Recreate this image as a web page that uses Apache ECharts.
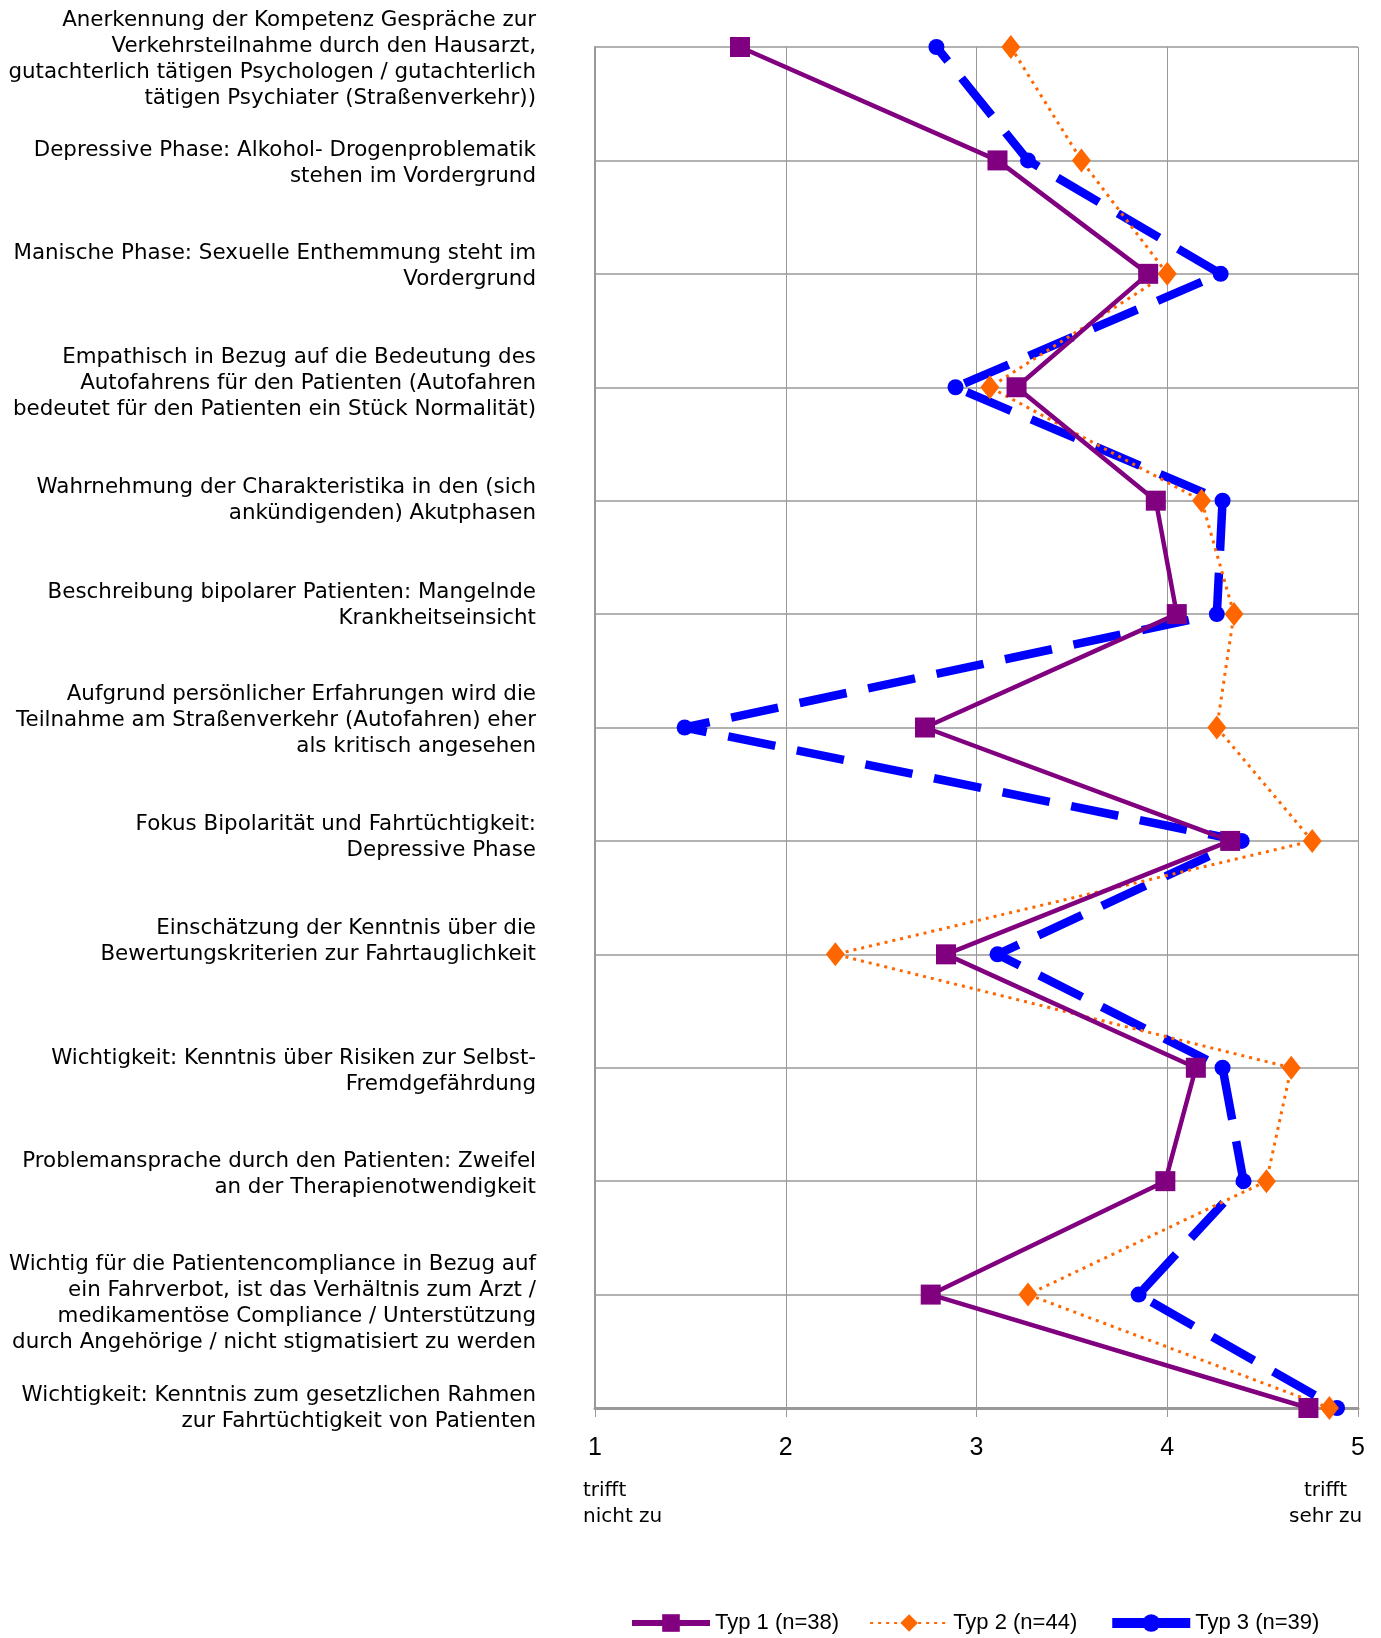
<!DOCTYPE html>
<html>
<head>
<meta charset="utf-8">
<script src="https://cdn.jsdelivr.net/npm/echarts@6/dist/echarts.min.js"></script>
<style>
  html, body { margin: 0; padding: 0; background: #fff; }
  #chart { width: 1381px; height: 1638px; }
</style>
</head>
<body>
<div id="chart"></div>
<script>
// Aussagen (von oben nach unten)
const categories = [
  'Anerkennung der Kompetenz Gespräche zur\nVerkehrsteilnahme durch den Hausarzt,\ngutachterlich tätigen Psychologen / gutachterlich\ntätigen Psychiater (Straßenverkehr))',
  'Depressive Phase: Alkohol- Drogenproblematik\nstehen im Vordergrund',
  'Manische Phase: Sexuelle Enthemmung steht im\nVordergrund',
  'Empathisch in Bezug auf die Bedeutung des\nAutofahrens für den Patienten (Autofahren\nbedeutet für den Patienten ein Stück Normalität)',
  'Wahrnehmung der Charakteristika in den (sich\nankündigenden) Akutphasen',
  'Beschreibung bipolarer Patienten: Mangelnde\nKrankheitseinsicht',
  'Aufgrund persönlicher Erfahrungen wird die\nTeilnahme am Straßenverkehr (Autofahren) eher\nals kritisch angesehen',
  'Fokus Bipolarität und Fahrtüchtigkeit:\nDepressive Phase',
  'Einschätzung der Kenntnis über die\nBewertungskriterien zur Fahrtauglichkeit',
  'Wichtigkeit: Kenntnis über Risiken zur Selbst-\nFremdgefährdung',
  'Problemansprache durch den Patienten: Zweifel\nan der Therapienotwendigkeit',
  'Wichtig für die Patientencompliance in Bezug auf\nein Fahrverbot, ist das Verhältnis zum Arzt /\nmedikamentöse Compliance / Unterstützung\ndurch Angehörige / nicht stigmatisiert zu werden',
  'Wichtigkeit: Kenntnis zum gesetzlichen Rahmen\nzur Fahrtüchtigkeit von Patienten'
]

const typ1 = [1.76, 3.11, 3.90, 3.21, 3.94, 4.05, 2.73, 4.33, 2.84, 4.15, 3.99, 2.76, 4.74]
const typ2 = [3.18, 3.55, 4.00, 3.07, 4.18, 4.35, 4.26, 4.76, 2.26, 4.65, 4.52, 3.27, 4.85]
const typ3 = [2.79, 3.27, 4.28, 2.89, 4.29, 4.26, 1.47, 4.39, 3.11, 4.29, 4.40, 3.85, 4.89]

const seriesNames = ['Typ 1 (n=38)', 'Typ 2 (n=44)', 'Typ 3 (n=39)']
const scaleMin = 1
const scaleMax = 5

// vertikaler Versatz der Beschriftungen wie im Original (px, + = nach unten)
const labelShift = [12, 3, -7, -4, 0, -9, -7, -3, -13, 4, -7, 9, 0]

const narrow = "'Liberation Sans Narrow', 'Arial Narrow', 'Liberation Sans', sans-serif"
const verdana = "Verdana, 'DejaVu Sans', sans-serif"
const gridColor = '#999'

// Rich-Styles: eine Textzeile + unsichtbare Abstandszeile für den Versatz
const rich = {
  t: {fontFamily: verdana, fontSize: 21.4, lineHeight: 26, color: '#000', align: 'right'}
}
labelShift.forEach(s => {
  if (s !== 0) rich['sp' + Math.abs(s)] = {fontSize: 1, lineHeight: 2 * Math.abs(s), align: 'right'}
})

const formatLabel = (value, index) => {
  const body = value.split('\n').map(l => `{t|${l}}`).join('\n')
  const s = labelShift[index]
  if (!s) return body
  const spacer = `{sp${Math.abs(s)}| }`
  return s > 0 ? spacer + '\n' + body : body + '\n' + spacer
}

const chart = echarts.init(document.getElementById('chart'))

chart.setOption({
  animation: false,
  grid: {left: 595, right: 23, top: 47, bottom: 230, containLabel: false, outerBoundsMode: 'none'},
  xAxis: {
    type: 'value',
    min: scaleMin,
    max: scaleMax,
    interval: 1,
    axisLine: {show: true, lineStyle: {color: gridColor, width: 3}},
    axisTick: {show: true, length: 9, lineStyle: {color: gridColor, width: 1}},
    axisLabel: {fontFamily: narrow, fontSize: 25, color: '#000', margin: 28},
    splitLine: {show: true, lineStyle: {color: gridColor, width: 1}}
  },
  yAxis: {
    type: 'category',
    data: categories,
    inverse: true,
    boundaryGap: false,
    axisLine: {show: true, lineStyle: {color: gridColor, width: 2}},
    axisTick: {show: false},
    axisLabel: {
      fontFamily: verdana,
      fontSize: 21.4,
      lineHeight: 26,
      color: '#000',
      align: 'right',
      margin: 59,
      formatter: formatLabel,
      rich: rich
    },
    splitLine: {show: true, lineStyle: {color: gridColor, width: 1.5}}
  },
  legend: {
    left: 624,
    top: 1607,
    itemWidth: 78,
    itemHeight: 22,
    itemGap: 30,
    textStyle: {fontFamily: narrow, fontSize: 22, color: '#000'},
    data: [
      {name: seriesNames[0], lineStyle: {width: 6}},
      {name: seriesNames[1]},
      {name: seriesNames[2], lineStyle: {type: 'solid', width: 10}}
    ]
  },
  graphic: [
    {
      type: 'text',
      left: 583,
      top: 1478,
      style: {text: 'trifft\nnicht zu', font: '20px ' + verdana, lineHeight: 26, fill: '#000', textAlign: 'left'}
    },
    {
      type: 'text',
      left: 1289,
      top: 1478,
      style: {text: 'trifft\nsehr zu', font: '20px ' + verdana, lineHeight: 26, fill: '#000', textAlign: 'center'}
    }
  ],
  series: [
    {
      name: seriesNames[2],
      type: 'line',
      data: typ3,
      clip: false,
      z: 2,
      symbol: 'circle',
      symbolSize: 16,
      itemStyle: {color: '#0000FF'},
      lineStyle: {color: '#0000FF', width: 8.5, type: [48, 22], dashOffset: 30}
    },
    {
      name: seriesNames[1],
      type: 'line',
      data: typ2,
      clip: false,
      z: 3,
      symbol: 'diamond',
      symbolSize: [19, 24],
      itemStyle: {color: '#FF6600'},
      lineStyle: {color: '#FF6600', width: 3, type: [3, 5]}
    },
    {
      name: seriesNames[0],
      type: 'line',
      data: typ1,
      clip: false,
      z: 4,
      symbol: 'rect',
      symbolSize: 20,
      itemStyle: {color: '#800080'},
      lineStyle: {color: '#800080', width: 4.5}
    }
  ]
})
</script>
</body>
</html>
